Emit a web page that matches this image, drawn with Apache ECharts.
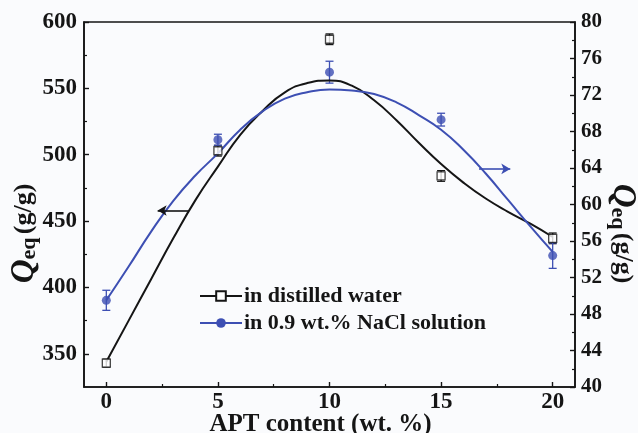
<!DOCTYPE html>
<html>
<head>
<meta charset="utf-8">
<script src="https://cdn.jsdelivr.net/npm/echarts@6/dist/echarts.min.js"></script>
<style>
  html, body { margin: 0; padding: 0; background: #fafbfd; }
  #chart { width: 638px; height: 433px; }
</style>
</head>
<body>
<div id="chart"></div>
<script>
// Measured swelling capacity versus APT content
const aptContent = [0, 5, 10, 15, 20];
const waterQeq = [343, 503, 587, 484, 437];       // g/g, left axis
const waterErr = [3, 4, 4, 4, 4];
const salineQeq = [49.5, 67.1, 74.5, 69.3, 54.4]; // g/g, right axis
const salineErr = [1.1, 0.6, 1.2, 0.7, 1.4];

// Fitted trend curves
const curveX = [0, 1, 2, 3, 4, 5, 6, 7, 8, 9, 10, 11, 12, 13, 14, 15, 16, 17, 18, 19, 20];
const waterFit = [344, 375, 406, 437, 466, 491, 515, 533, 547, 554, 556, 552, 541, 526, 509, 493, 479, 467, 457, 448, 438];
const salineFit = [49.5, 53.2, 57.0, 60.4, 63.2, 65.6, 68.2, 70.2, 71.6, 72.3, 72.6, 72.5, 72.1, 71.2, 69.8, 68.2, 66.0, 63.4, 60.5, 57.6, 54.8];

// Axis tick positions and labels
const xMajor = [0, 5, 10, 15, 20];
const xMinor = [2.5, 7.5, 12.5, 17.5];
const leftMajor = [350, 400, 450, 500, 550, 600];
const leftMinor = [375, 425, 475, 525, 575];
const rightMajor = [40, 44, 48, 52, 56, 60, 64, 68, 72, 76, 80];
const rightMinor = [42, 46, 50, 54, 58, 62, 66, 70, 74, 78];

// Direction arrows pointing each curve to its axis
const waterArrow = [[3.7, 458], [2.3, 458]];
const salineArrow = [[16.7, 63.9], [18.1, 63.9]];

const BLACK = '#151515';
const BLUE = '#3d4fb3';
const FONT = '"Liberation Serif", "Times New Roman", serif';

const chart = echarts.init(document.getElementById('chart'), null, { renderer: 'canvas' });

const labelStyle = { fontFamily: FONT, fontWeight: 'bold', fontSize: 23, color: BLACK };

function nameRich() {
  return {
    q: { fontFamily: FONT, fontWeight: 'bold', fontStyle: 'italic', fontSize: 33, color: BLACK, lineHeight: 32 },
    sub: { fontFamily: FONT, fontWeight: 'bold', fontSize: 22, color: BLACK, lineHeight: 20, verticalAlign: 'bottom' },
    n: { fontFamily: FONT, fontWeight: 'bold', fontSize: 26, color: BLACK, lineHeight: 32 }
  };
}

function errorBars(xs, ys, errs, yAxisIndex, color) {
  return {
    type: 'custom',
    xAxisIndex: 0,
    yAxisIndex: yAxisIndex,
    z: 3,
    silent: true,
    data: xs.map((x, i) => [x, ys[i] - errs[i], ys[i] + errs[i]]),
    renderItem(params, api) {
      const lo = api.coord([api.value(0), api.value(1)]);
      const hi = api.coord([api.value(0), api.value(2)]);
      const w = 4;
      const style = { stroke: color, lineWidth: 1.3, fill: null };
      return {
        type: 'group',
        children: [
          { type: 'line', shape: { x1: lo[0], y1: lo[1], x2: hi[0], y2: hi[1] }, style: style },
          { type: 'line', shape: { x1: lo[0] - w, y1: lo[1], x2: lo[0] + w, y2: lo[1] }, style: style },
          { type: 'line', shape: { x1: hi[0] - w, y1: hi[1], x2: hi[0] + w, y2: hi[1] }, style: style }
        ]
      };
    }
  };
}

const axisLine = { show: true, onZero: false, lineStyle: { color: BLACK, width: 1.6 } };
const hiddenLine = { show: false, onZero: false };

chart.setOption({
  backgroundColor: '#fafbfd',
  animation: false,
  grid: {
    left: 84, right: 63, top: 22, bottom: 46,
    outerBoundsMode: 'none', containLabel: false,
    show: true, borderColor: BLACK, borderWidth: 1.6, backgroundColor: 'transparent'
  },
  legend: {
    left: 194, top: 280, orient: 'vertical', itemGap: 5,
    itemWidth: 42, itemHeight: 12,
    textStyle: { fontFamily: FONT, fontWeight: 'bold', fontSize: 22, color: BLACK, padding: [0, 0, 0, -3] },
    data: ['in distilled water', 'in 0.9 wt.% NaCl solution']
  },
  xAxis: [
    {
      type: 'value', min: -1, max: 21,
      axisLine: axisLine,
      splitLine: { show: false },
      axisTick: { show: true, inside: true, length: 5, lineStyle: { color: BLACK, width: 1.4 }, customValues: xMajor },
      axisLabel: { ...labelStyle, margin: 4, customValues: xMajor },
      name: 'APT content (wt. %)', nameLocation: 'middle', nameGap: 25, nameMoveOverlap: false,
      nameTextStyle: { fontFamily: FONT, fontWeight: 'bold', fontSize: 25, color: BLACK, padding: [0, 18, 0, 0] }
    },
    {
      type: 'value', min: -1, max: 21, position: 'bottom',
      axisLine: hiddenLine, splitLine: { show: false }, axisLabel: { show: false },
      axisTick: { show: true, inside: true, length: 3, lineStyle: { color: BLACK, width: 1.2 }, customValues: xMinor }
    }
  ],
  yAxis: [
    {
      type: 'value', min: 325, max: 600, position: 'left',
      axisLine: axisLine, splitLine: { show: false },
      axisTick: { show: true, inside: true, length: 5, lineStyle: { color: BLACK, width: 1.4 }, customValues: leftMajor },
      axisLabel: { ...labelStyle, margin: 7, customValues: leftMajor },
      name: '{q|Q}{sub|eq} {n|(g/g)}', nameLocation: 'middle', nameRotate: 90, nameGap: 44, nameMoveOverlap: false,
      nameTextStyle: { rich: nameRich(), padding: [0, 0, 0, -58] }
    },
    {
      type: 'value', min: 40, max: 80, position: 'right',
      axisLine: axisLine, splitLine: { show: false },
      axisTick: { show: true, inside: true, length: 5, lineStyle: { color: BLACK, width: 1.4 }, customValues: rightMajor },
      axisLabel: { ...labelStyle, fontSize: 21, margin: 6, customValues: rightMajor },
      name: '{q|Q}{sub|eq} {n|(g/g)}', nameLocation: 'middle', nameRotate: -90, nameGap: 32, nameMoveOverlap: false,
      nameTextStyle: { rich: nameRich(), padding: [0, 0, 0, 58] }
    },
    {
      type: 'value', min: 325, max: 600, position: 'left',
      axisLine: hiddenLine, splitLine: { show: false }, axisLabel: { show: false },
      axisTick: { show: true, inside: true, length: 3, lineStyle: { color: BLACK, width: 1.2 }, customValues: leftMinor }
    },
    {
      type: 'value', min: 40, max: 80, position: 'right',
      axisLine: hiddenLine, splitLine: { show: false }, axisLabel: { show: false },
      axisTick: { show: true, inside: true, length: 3, lineStyle: { color: BLACK, width: 1.2 }, customValues: rightMinor }
    }
  ],
  series: [
    {
      name: 'water fit', type: 'line', xAxisIndex: 0, yAxisIndex: 0,
      data: curveX.map((x, i) => [x, waterFit[i]]),
      smooth: 0.5, showSymbol: false, silent: true,
      lineStyle: { color: BLACK, width: 2 },
      markLine: {
        silent: true, symbol: ['none', 'arrow'], symbolSize: [8, 9],
        label: { show: false },
        lineStyle: { color: BLACK, width: 1.6, type: 'solid' },
        data: [[{ coord: waterArrow[0] }, { coord: waterArrow[1] }]]
      }
    },
    {
      name: 'saline fit', type: 'line', xAxisIndex: 0, yAxisIndex: 1,
      data: curveX.map((x, i) => [x, salineFit[i]]),
      smooth: 0.5, showSymbol: false, silent: true,
      lineStyle: { color: BLUE, width: 2 },
      markLine: {
        silent: true, symbol: ['none', 'arrow'], symbolSize: [8, 9],
        label: { show: false },
        lineStyle: { color: BLUE, width: 1.6, type: 'solid' },
        data: [[{ coord: salineArrow[0] }, { coord: salineArrow[1] }]]
      }
    },
    errorBars(aptContent, waterQeq, waterErr, 0, BLACK),
    errorBars(aptContent, salineQeq, salineErr, 1, BLUE),
    {
      name: 'water points', type: 'scatter', xAxisIndex: 0, yAxisIndex: 0,
      data: aptContent.map((x, i) => [x, waterQeq[i]]),
      symbol: 'rect', symbolSize: 8, z: 4, silent: true,
      itemStyle: { color: '#ffffff', borderColor: BLACK, borderWidth: 1.3 }
    },
    {
      name: 'saline points', type: 'scatter', xAxisIndex: 0, yAxisIndex: 1,
      data: aptContent.map((x, i) => [x, salineQeq[i]]),
      symbol: 'circle', symbolSize: 9, z: 4, silent: true,
      itemStyle: { color: BLUE }
    },
    // legend entries (line with marker)
    {
      name: 'in distilled water', type: 'line', xAxisIndex: 0, yAxisIndex: 0, data: [],
      symbol: 'rect', symbolSize: 7,
      lineStyle: { color: BLACK, width: 2 },
      itemStyle: { color: '#ffffff', borderColor: BLACK, borderWidth: 1.2 }
    },
    {
      name: 'in 0.9 wt.% NaCl solution', type: 'line', xAxisIndex: 0, yAxisIndex: 1, data: [],
      symbol: 'circle', symbolSize: 8,
      lineStyle: { color: BLUE, width: 2 },
      itemStyle: { color: BLUE }
    }
  ]
});
</script>
</body>
</html>
